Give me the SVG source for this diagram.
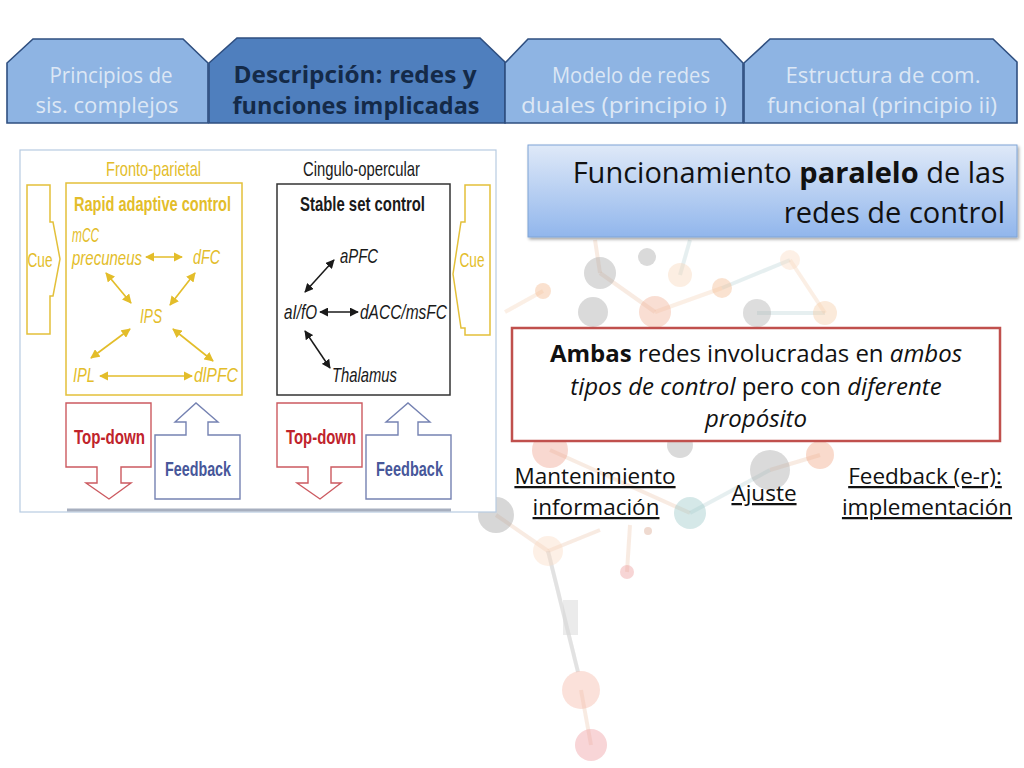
<svg xmlns="http://www.w3.org/2000/svg" width="1024" height="768" viewBox="0 0 1024 768">
<defs>
<style>
.tab{stroke:#2f4f80;stroke-width:1.6;}
.tabI{fill:#8eb4e3;}
.tabA{fill:#4f7fbe;}
.tt{font-family:'Open Sans','Noto Sans','Liberation Sans',sans-serif;font-size:22px;text-anchor:middle;}
.ttI{fill:#dce7f5;}
.ttA{fill:#142a48;font-weight:bold;font-size:23px;}
.fig{font-family:'Liberation Sans Narrow','Liberation Sans',Arial,sans-serif;font-size:21px;}
.yl{fill:#e3bd2a;}
.yk{fill:#1a1a1a;}
.ys{fill:none;stroke:#e3c03a;stroke-width:1.5;}
.ya{stroke:#e3bd2a;stroke-width:1.7;fill:none;marker-start:url(#yh);marker-end:url(#yh);}
.ka{stroke:#1a1a1a;stroke-width:1.5;fill:none;marker-start:url(#kh);marker-end:url(#kh);}
.body{font-family:'Open Sans','Noto Sans','Liberation Sans',sans-serif;fill:#111;}
.ul{font-size:22.5px;text-anchor:middle;text-decoration:underline;}
.bg circle{opacity:0.42;}
.bg line{stroke-width:4;opacity:0.28;}
</style>
<marker id="yh" viewBox="0 0 10 10" refX="9" refY="5" markerWidth="5.5" markerHeight="5.5" orient="auto-start-reverse" markerUnits="strokeWidth">
<path d="M0,0 L10,5 L0,10 Z" fill="#e3bd2a"/>
</marker>
<marker id="kh" viewBox="0 0 10 10" refX="9" refY="5" markerWidth="6" markerHeight="6" orient="auto-start-reverse" markerUnits="strokeWidth">
<path d="M0,0 L10,5 L0,10 Z" fill="#1a1a1a"/>
</marker>
<linearGradient id="tg" x1="0" y1="0" x2="0" y2="1">
<stop offset="0" stop-color="#dfe9f8"/>
<stop offset="1" stop-color="#91b6ec"/>
</linearGradient>
<filter id="sh" x="-5%" y="-10%" width="110%" height="130%">
<feDropShadow dx="1.5" dy="2" stdDeviation="1.5" flood-color="#000" flood-opacity="0.35"/>
</filter>
</defs>

<rect width="1024" height="768" fill="#ffffff"/>

<g id="background" class="bg">
<line x1="600" y1="273" x2="655" y2="312" stroke="#e9b89a"/>
<line x1="655" y1="312" x2="722" y2="288" stroke="#f2c7a6"/>
<line x1="722" y1="288" x2="790" y2="260" stroke="#a9c9cc"/>
<line x1="757" y1="313" x2="825" y2="313" stroke="#a9c9cc"/>
<line x1="790" y1="260" x2="825" y2="313" stroke="#f2c7a6"/>
<line x1="543" y1="291" x2="505" y2="312" stroke="#f2c7a6"/>
<line x1="600" y1="273" x2="595" y2="240" stroke="#e9b89a"/>
<line x1="680" y1="275" x2="690" y2="240" stroke="#a9c9cc"/>
<line x1="550" y1="450" x2="690" y2="513" stroke="#e9b89a"/>
<line x1="690" y1="513" x2="770" y2="470" stroke="#a9c9cc"/>
<line x1="770" y1="470" x2="820" y2="455" stroke="#e9b89a"/>
<line x1="548" y1="551" x2="578" y2="672" stroke="#9a9a9a"/>
<line x1="548" y1="551" x2="496" y2="515" stroke="#e9b89a"/>
<line x1="548" y1="551" x2="600" y2="530" stroke="#e9b89a"/>
<line x1="630" y1="525" x2="627" y2="572" stroke="#e9b89a"/>
<line x1="581" y1="690" x2="591" y2="745" stroke="#e9b89a"/>
<circle cx="600" cy="273" r="16" fill="#a8a8a8"/>
<circle cx="647" cy="257" r="9" fill="#a8a8a8"/>
<circle cx="593" cy="312" r="15" fill="#a8a8a8"/>
<circle cx="543" cy="291" r="8" fill="#f4b88c"/>
<circle cx="680" cy="275" r="12" fill="#f9d6ba"/>
<circle cx="722" cy="288" r="10" fill="#f4ba8e"/>
<circle cx="655" cy="312" r="16" fill="#f0b096"/>
<circle cx="757" cy="313" r="14" fill="#adadad"/>
<circle cx="825" cy="313" r="12" fill="#f6cda8"/>
<circle cx="790" cy="260" r="10" fill="#fbdcc4"/>
<circle cx="550" cy="450" r="18" fill="#eea28e"/>
<circle cx="680" cy="445" r="13" fill="#a8a8a8"/>
<circle cx="770" cy="470" r="20" fill="#a8a8a8"/>
<circle cx="690" cy="513" r="16" fill="#9cc9c8"/>
<circle cx="820" cy="455" r="14" fill="#f1a886"/>
<circle cx="496" cy="515" r="18" fill="#a0a0a0"/>
<circle cx="548" cy="551" r="15" fill="#fadcc4"/>
<circle cx="648" cy="531" r="4" fill="#d8a890"/>
<circle cx="627" cy="572" r="7" fill="#eb9a9a"/>
<rect x="563" y="600" width="15" height="35" fill="#d8d8d8" opacity="0.5"/>
<circle cx="581" cy="690" r="19" fill="#f6b8a6"/>
<circle cx="591" cy="745" r="16" fill="#ee9aa0"/>
</g>

<g id="tab1">
<path class="tab tabI" d="M7,123 V63 L33,39 H183 L208,63 V123 Z"/>
<text class="tt ttI" x="111" y="83" textLength="123" lengthAdjust="spacingAndGlyphs">Principios de</text>
<text class="tt ttI" x="107" y="113" textLength="143" lengthAdjust="spacingAndGlyphs">sis. complejos</text>
</g>
<g id="tab2">
<path class="tab tabA" d="M209,123 V63 L237,38 H480 L505,62 V123 Z"/>
<text class="tt ttA" x="355" y="83" textLength="243" lengthAdjust="spacingAndGlyphs">Descripción: redes y</text>
<text class="tt ttA" x="356" y="114" textLength="247" lengthAdjust="spacingAndGlyphs">funciones implicadas</text>
</g>
<g id="tab3">
<path class="tab tabI" d="M505,123 V63 L528,39 H720 L743,63 V123 Z"/>
<text class="tt ttI" x="631" y="83" textLength="158" lengthAdjust="spacingAndGlyphs">Modelo de redes</text>
<text class="tt ttI" x="624" y="113" textLength="206" lengthAdjust="spacingAndGlyphs">duales (principio i)</text>
</g>
<g id="tab4">
<path class="tab tabI" d="M744,123 V63 L770,39 H993 L1017,62 V123 Z"/>
<text class="tt ttI" x="883" y="83" textLength="195" lengthAdjust="spacingAndGlyphs">Estructura de com.</text>
<text class="tt ttI" x="882" y="113" textLength="230" lengthAdjust="spacingAndGlyphs">funcional (principio ii)</text>
</g>

<g id="figure">
<rect x="20" y="150" width="476" height="362" fill="#ffffff" stroke="#b7cbe2" stroke-width="1.2"/>
<line x1="67" y1="510" x2="451" y2="510" stroke="#a7afbf" stroke-width="3"/>
</g>

<g id="fronto-parietal">
<text class="fig yl" x="106" y="176" font-size="19" textLength="95" lengthAdjust="spacingAndGlyphs">Fronto-parietal</text>
<rect class="ys" x="66" y="183" width="176" height="212"/>
<text class="fig yl" x="74" y="211" font-size="20" font-weight="bold" textLength="157" lengthAdjust="spacingAndGlyphs">Rapid adaptive control</text>
</g>
<g id="cue-left">
<path class="ys" d="M27,185 H50 V222 H53 L60,259 L53,296 H50 V334 H27 Z"/>
<text class="fig yl" x="40" y="267" text-anchor="middle" textLength="25" lengthAdjust="spacingAndGlyphs">Cue</text>
</g>
<g id="node-mcc"><text class="fig yl" x="72" y="242" font-size="20" font-style="italic" textLength="27" lengthAdjust="spacingAndGlyphs">mCC</text>
<text class="fig yl" x="72" y="265" font-style="italic" textLength="70" lengthAdjust="spacingAndGlyphs">precuneus</text></g>
<g id="node-dfc"><text class="fig yl" x="193" y="264" font-style="italic" textLength="27" lengthAdjust="spacingAndGlyphs">dFC</text></g>
<g id="node-ips"><text class="fig yl" x="140" y="323" font-style="italic" textLength="22" lengthAdjust="spacingAndGlyphs">IPS</text></g>
<g id="node-ipl"><text class="fig yl" x="73" y="382" font-style="italic" textLength="22" lengthAdjust="spacingAndGlyphs">IPL</text></g>
<g id="node-dlpfc"><text class="fig yl" x="194" y="382" font-style="italic" textLength="44" lengthAdjust="spacingAndGlyphs">dlPFC</text></g>

<g id="cingulo-opercular">
<text class="fig yk" x="303" y="176" font-size="19" textLength="117" lengthAdjust="spacingAndGlyphs">Cingulo-opercular</text>
<rect x="277" y="184" width="173" height="211" fill="none" stroke="#333" stroke-width="1.5"/>
<text class="fig yk" x="300" y="211" font-size="20" font-weight="bold" textLength="125" lengthAdjust="spacingAndGlyphs">Stable set control</text>
</g>
<g id="cue-right">
<path class="ys" d="M490,185 H465 V222 H461 L453,274 L461,328 H465 V335 H490 Z"/>
<text class="fig yl" x="472" y="267" text-anchor="middle" textLength="25" lengthAdjust="spacingAndGlyphs">Cue</text>
</g>
<g id="node-apfc"><text class="fig yk" x="340" y="263" font-style="italic" textLength="38" lengthAdjust="spacingAndGlyphs">aPFC</text></g>
<g id="node-aifo"><text class="fig yk" x="284" y="319" font-style="italic" textLength="33" lengthAdjust="spacingAndGlyphs">aI/fO</text></g>
<g id="node-dacc"><text class="fig yk" x="360" y="319" font-style="italic" textLength="87" lengthAdjust="spacingAndGlyphs">dACC/msFC</text></g>
<g id="node-thalamus"><text class="fig yk" x="332" y="382" font-style="italic" textLength="65" lengthAdjust="spacingAndGlyphs">Thalamus</text></g>

<g id="topdown-left">
<path d="M66,403 H151 V467 H121 V483 H131 L109,499 L86,483 H97 V467 H66 Z" fill="none" stroke="#cc5a60" stroke-width="1.4"/>
<text class="fig" x="74" y="444" font-size="22" fill="#c0232b" font-weight="bold" textLength="71" lengthAdjust="spacingAndGlyphs">Top-down</text>
</g>
<g id="feedback-left">
<path d="M155,435 H186 V422 H175 L196,403 L218,422 H208 V435 H240 V499 H155 Z" fill="none" stroke="#7582b2" stroke-width="1.4"/>
<text class="fig" x="165" y="476" font-size="22" fill="#47579a" font-weight="bold" textLength="66" lengthAdjust="spacingAndGlyphs">Feedback</text>
</g>
<g id="topdown-right">
<path d="M277,403 H362 V467 H331 V483 H341 L320,499 L297,483 H308 V467 H277 Z" fill="none" stroke="#cc5a60" stroke-width="1.4"/>
<text class="fig" x="286" y="444" font-size="22" fill="#c0232b" font-weight="bold" textLength="70" lengthAdjust="spacingAndGlyphs">Top-down</text>
</g>
<g id="feedback-right">
<path d="M366,435 H398 V422 H386 L408,403 L430,422 H418 V435 H451 V499 H366 Z" fill="none" stroke="#7582b2" stroke-width="1.4"/>
<text class="fig" x="376" y="476" font-size="22" fill="#47579a" font-weight="bold" textLength="67" lengthAdjust="spacingAndGlyphs">Feedback</text>
</g>

<g id="connectors">
<line class="ya" x1="146" y1="257" x2="182" y2="257"/>
<line class="ya" x1="106" y1="273" x2="131" y2="303"/>
<line class="ya" x1="195" y1="273" x2="170" y2="305"/>
<line class="ya" x1="130" y1="329" x2="91" y2="358"/>
<line class="ya" x1="173" y1="329" x2="213" y2="361"/>
<line class="ya" x1="100" y1="376" x2="192" y2="376"/>
<line class="ka" x1="305" y1="292" x2="334" y2="260"/>
<line class="ka" x1="320" y1="312" x2="358" y2="312"/>
<line class="ka" x1="305" y1="331" x2="330" y2="368"/>
</g>

<g id="title">
<rect x="528" y="145" width="489" height="92" fill="url(#tg)" stroke="#7fa4d6" stroke-width="1" filter="url(#sh)"/>
<text class="body" x="1005" y="183" font-size="29" text-anchor="end">Funcionamiento <tspan font-weight="bold">paralelo</tspan> de las</text>
<text class="body" x="1005" y="223" font-size="29" text-anchor="end">redes de control</text>
</g>

<g id="note">
<rect x="512" y="328" width="488" height="113" fill="#ffffff" stroke="#c0504d" stroke-width="2.5"/>
<text class="body" x="756" y="362" font-size="24" text-anchor="middle"><tspan font-weight="bold">Ambas</tspan> redes involucradas en <tspan font-style="italic">ambos</tspan></text>
<text class="body" x="756" y="395" font-size="24" text-anchor="middle"><tspan font-style="italic">tipos de control</tspan> pero con <tspan font-style="italic">diferente</tspan></text>
<text class="body" x="756" y="427" font-size="24" text-anchor="middle" font-style="italic">propósito</text>
</g>

<g id="label-mantenimiento">
<text class="body ul" x="595" y="484">Mantenimiento</text>
<text class="body ul" x="596" y="515">información</text>
</g>
<g id="label-ajuste">
<text class="body ul" x="764" y="501">Ajuste</text>
</g>
<g id="label-feedback">
<text class="body ul" x="925" y="484">Feedback (e-r):</text>
<text class="body ul" x="927" y="515">implementación</text>
</g>
</svg>
